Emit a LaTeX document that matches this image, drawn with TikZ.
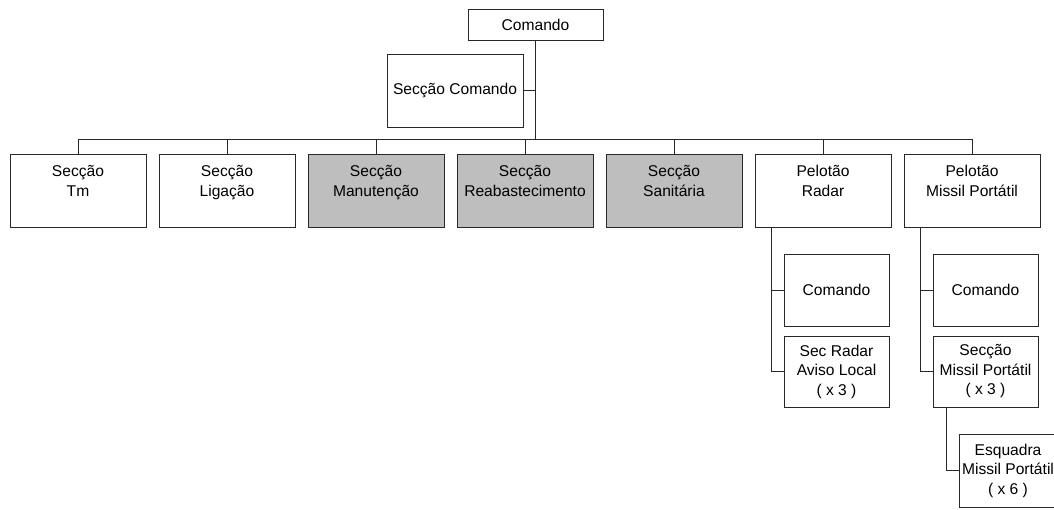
\documentclass[tikz,border=0pt]{standalone}
\usepackage{fontspec}
\setmainfont{Liberation Sans}
\usetikzlibrary{calc}
\definecolor{lineclr}{RGB}{40,40,40}
\definecolor{shade}{RGB}{190,190,190}
\begin{document}
\begin{tikzpicture}[x=1pt,y=-1pt,
  unit/.style={draw=lineclr,line width=0.9pt,fill=white,rectangle,inner sep=0pt,
    align=center,font=\fontsize{15.6}{19.5}\selectfont,
    minimum width=136pt,minimum height=73pt},
  sub/.style={unit,minimum width=105pt,minimum height=72pt},
  grey/.style={fill=shade},
  link/.style={draw=lineclr,line width=0.9pt}]
\useasboundingbox (0,0) rectangle (1054,509);
\clip (0,0) rectangle (1054,509);

% headquarters
\node[unit,minimum width=135pt,minimum height=31pt] (cmd) at (535.5,24.5) {Comando};
\node[unit] (seccmd) at (455,90.5) {Secção Comando};

% first level
\node[unit] (tm)   at (78,190.5)  {Secção\\Tm\\\mbox{}};
\node[unit] (lig)  at (227,190.5) {Secção\\Ligação\\\mbox{}};
\node[unit,grey] (man)  at (376,190.5) {Secção\\Manutenção\\\mbox{}};
\node[unit,grey] (reab) at (525,190.5) {Secção\\Reabastecimento\\\mbox{}};
\node[unit,grey] (san)  at (674,190.5) {Secção\\Sanitária\\\mbox{}};
\node[unit] (prad) at (823,190.5) {Pelotão\\Radar\\\mbox{}};
\node[unit] (pmis) at (972,190.5) {Pelotão\\Missil Portátil\\\mbox{}};

% radar platoon
\node[sub] (radcmd) at (836.5,290)   {Comando};
\node[sub,minimum height=71pt] (radsec) at (836.5,371.5) {Sec Radar\\Aviso Local\\( x 3 )};

% missile platoon
\node[sub] (miscmd) at (985.5,290)   {Comando};
\node[sub,minimum height=71pt] (missec) at (985.5,371.5) {Secção\\Missil Portátil\\( x 3 )};
\node[sub,minimum width=98pt,minimum height=73pt] (esq) at (1008,470.5) {Esquadra\\Missil Portátil\\( x 6 )};

% connectors
\coordinate (busL) at ($(tm.north)+(0,-14)$);
\draw[link] (tm.north) -- (busL) -| (pmis.north);
\foreach \n in {lig,man,reab,san,prad}
  \draw[link] (\n.north) -- (\n.north |- busL);
\draw[link] (cmd.south) -- (cmd.south |- busL);
\draw[link] (seccmd.east) -- (seccmd.east -| cmd.south);

\draw[link] ($(prad.south west)+(17,0)$) |- (radsec.west);
\draw[link] (radcmd.west) -- (radcmd.west -| {$(prad.south west)+(17,0)$});
\draw[link] ($(pmis.south west)+(17,0)$) |- (missec.west);
\draw[link] (miscmd.west) -- (miscmd.west -| {$(pmis.south west)+(17,0)$});
\draw[link] ($(missec.south west)+(14,0)$) |- (esq.west);
\end{tikzpicture}
\end{document}
